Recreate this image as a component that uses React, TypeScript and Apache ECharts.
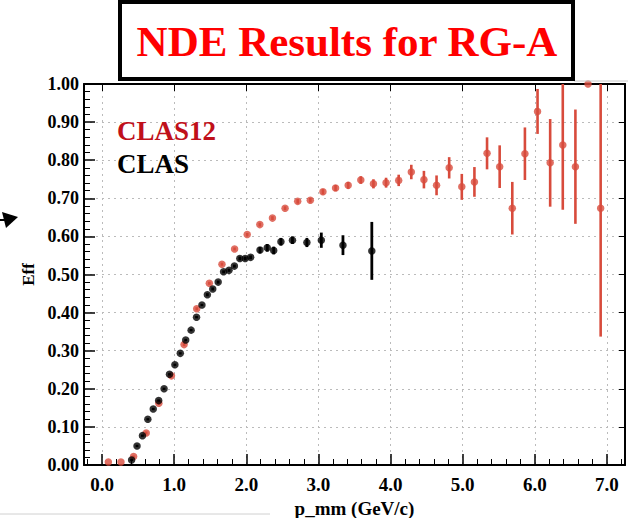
import React, { useEffect, useRef } from 'react';
import * as echarts from 'echarts';

// ---------- data ----------
const xTickValues = [0, 1, 2, 3, 4, 5, 6, 7];
const xMinorTickValues = [
  -0.2, 0.2, 0.4, 0.6, 0.8, 1.2, 1.4, 1.6, 1.8, 2.2, 2.4, 2.6, 2.8, 3.2, 3.4, 3.6, 3.8,
  4.2, 4.4, 4.6, 4.8, 5.2, 5.4, 5.6, 5.8, 6.2, 6.4, 6.6, 6.8, 7.2,
];

const clas12X = [
  0.0875, 0.2625, 0.4375, 0.6125, 0.7875, 0.9625, 1.1375, 1.3125, 1.4875, 1.6625,
  1.8375, 2.0125, 2.1875, 2.3625, 2.5375, 2.7125, 2.8875, 3.0625, 3.2375, 3.4125,
  3.5875, 3.7625, 3.9375, 4.1125, 4.2875, 4.4625, 4.6375, 4.8125, 4.9875, 5.1625,
  5.3375, 5.5125, 5.6875, 5.8625, 6.0375, 6.2125, 6.3875, 6.5625, 6.7375, 6.9125,
];
const clas12Y = [
  0.008, 0.008, 0.022, 0.084, 0.162, 0.234, 0.316, 0.41, 0.477, 0.527,
  0.567, 0.605, 0.631, 0.648, 0.674, 0.692, 0.695, 0.717, 0.727, 0.734,
  0.748, 0.738, 0.741, 0.747, 0.769, 0.749, 0.734, 0.78, 0.73, 0.743,
  0.818, 0.783, 0.674, 0.817, 0.928, 0.793, 0.84, 0.783, 1.0, 0.674,
];
const clas12Err = [
  0, 0, 0.003, 0.004, 0.004, 0.004, 0.004, 0.004, 0.004, 0.004,
  0.004, 0.004, 0.005, 0.005, 0.005, 0.006, 0.006, 0.007, 0.008, 0.009,
  0.01, 0.012, 0.013, 0.015, 0.019, 0.023, 0.026, 0.028, 0.034, 0.039,
  0.042, 0.056, 0.069, 0.069, 0.059, 0.115, 0.17, 0.15, 0, 0.337,
];

const clasX = [
  0.41, 0.485, 0.56, 0.635, 0.71, 0.785, 0.86, 0.935, 1.01, 1.085,
  1.16, 1.235, 1.31, 1.385, 1.46, 1.535, 1.61, 1.685, 1.76, 1.835,
  1.91, 1.985, 2.06, 2.19, 2.29, 2.38, 2.48, 2.64, 2.84, 3.04,
  3.34, 3.74,
];
const clasY = [
  0.013, 0.05, 0.077, 0.12, 0.147, 0.169, 0.2, 0.238, 0.263, 0.293,
  0.328, 0.354, 0.388, 0.42, 0.447, 0.462, 0.48, 0.507, 0.511, 0.522,
  0.542, 0.542, 0.545, 0.564, 0.57, 0.563, 0.586, 0.59, 0.584, 0.59,
  0.577, 0.562,
];
const clasErr = [
  0.003, 0.003, 0.003, 0.003, 0.003, 0.003, 0.003, 0.003, 0.003, 0.003,
  0.003, 0.003, 0.003, 0.003, 0.004, 0.004, 0.004, 0.004, 0.004, 0.004,
  0.005, 0.005, 0.005, 0.008, 0.01, 0.01, 0.01, 0.01, 0.012, 0.02,
  0.026, 0.076,
];

// ---------- styles ----------
const RED = '#d84b3c';
const LEGEND_RED = '#c0101a';
const SERIF = '"Liberation Serif", "DejaVu Serif", "Times New Roman", serif';

export default function App() {
  const ref = useRef<HTMLDivElement>(null);

  useEffect(() => {
    const chart = echarts.init(ref.current!, null, { renderer: 'svg' });

    const errRenderer = (color: string, width: number) => (params: any, api: any) => {
      const x = api.value(0);
      const y = api.value(1);
      const e = api.value(2);
      if (!e) return null;
      const lo = Math.max(0, y - e);
      const hi = Math.min(1, y + e);
      const p1 = api.coord([x, lo]);
      const p2 = api.coord([x, hi]);
      return {
        type: 'line',
        shape: { x1: p1[0], y1: p1[1], x2: p2[0], y2: p2[1] },
        style: { stroke: color, lineWidth: width },
      };
    };

    const axisText = { fontFamily: SERIF, fontWeight: 'bold' as const, color: '#000' };

    chart.setOption({
      animation: false,
      backgroundColor: '#fff',
      grid: { left: 84, right: 5, top: 84, bottom: 53, show: false, outerBoundsMode: 'none', containLabel: false },
      xAxis: [
        {
          type: 'value',
          min: -0.25,
          max: 7.25,
          position: 'bottom',
          axisLine: { show: true, onZero: false, lineStyle: { color: '#000', width: 2 } },
          axisTick: { show: true, inside: true, length: 11, customValues: xTickValues, lineStyle: { color: '#000', width: 1.5 } },
          axisLabel: { ...axisText, customValues: xTickValues, fontSize: 19, margin: 10, formatter: (v: number) => v.toFixed(1) },
          splitLine: { show: true, lineStyle: { color: '#bbb', type: [2, 4], width: 1 } },
          name: 'p_mm (GeV/c)',
          nameLocation: 'middle',
          nameGap: 31,
          nameTextStyle: { ...axisText, fontSize: 19 },
        },
        {
          type: 'value',
          min: -0.25,
          max: 7.25,
          position: 'bottom',
          axisLine: { show: false },
          axisTick: { show: true, inside: true, length: 6, customValues: xMinorTickValues, lineStyle: { color: '#000', width: 1 } },
          axisLabel: { show: false },
          splitLine: { show: false },
        },
        {
          type: 'value',
          min: -0.25,
          max: 7.25,
          position: 'top',
          axisLine: { show: true, onZero: false, lineStyle: { color: '#000', width: 2 } },
          axisTick: { show: true, inside: true, length: 7, customValues: xTickValues, lineStyle: { color: '#000', width: 1 } },
          axisLabel: { show: false },
          splitLine: { show: false },
        },
      ],
      yAxis: [
        {
          type: 'value',
          min: 0,
          max: 1,
          interval: 0.1,
          position: 'left',
          axisLine: { show: true, onZero: false, lineStyle: { color: '#000', width: 2 } },
          axisTick: { show: true, inside: true, length: 11, lineStyle: { color: '#000', width: 1.5 } },
          minorTick: { show: true, splitNumber: 5, length: 6, lineStyle: { color: '#000', width: 1 } },
          axisLabel: { ...axisText, fontSize: 18, margin: 5, formatter: (v: number) => v.toFixed(2) },
          splitLine: { show: true, lineStyle: { color: '#bbb', type: [2, 4], width: 1 } },
          name: 'Eff',
          nameLocation: 'middle',
          nameGap: 46,
          nameRotate: 90,
          nameTextStyle: { ...axisText, fontSize: 17 },
        },
        {
          type: 'value',
          min: 0,
          max: 1,
          interval: 0.1,
          position: 'right',
          axisLine: { show: true, onZero: false, lineStyle: { color: '#000', width: 2 } },
          axisTick: { show: true, inside: true, length: 6, lineStyle: { color: '#000', width: 1 } },
          axisLabel: { show: false },
          splitLine: { show: false },
        },
      ],
      series: [
        {
          type: 'custom',
          name: 'CLAS12 err',
          xAxisIndex: 0,
          yAxisIndex: 0,
          renderItem: errRenderer(RED, 2.6),
          encode: { x: 0, y: 1 },
          data: clas12X.map((x, i) => [x, clas12Y[i], clas12Err[i]]),
          z: 2,
        },
        {
          type: 'scatter',
          name: 'CLAS12',
          xAxisIndex: 0,
          yAxisIndex: 0,
          symbol: 'circle',
          symbolSize: 7.5,
          itemStyle: { color: RED },
          data: clas12X.map((x, i) => [x, clas12Y[i]]),
          z: 3,
        },
        {
          type: 'custom',
          name: 'CLAS err',
          xAxisIndex: 0,
          yAxisIndex: 0,
          renderItem: errRenderer('#000', 2.8),
          encode: { x: 0, y: 1 },
          data: clasX.map((x, i) => [x, clasY[i], clasErr[i]]),
          z: 4,
        },
        {
          type: 'scatter',
          name: 'CLAS',
          xAxisIndex: 0,
          yAxisIndex: 0,
          symbol: 'circle',
          symbolSize: 7.5,
          itemStyle: { color: '#000' },
          data: clasX.map((x, i) => [x, clasY[i]]),
          z: 5,
        },
      ],
      graphic: [
        {
          type: 'polyline',
          z: 90,
          shape: { points: [[574, 0], [574, 81], [628, 81]] },
          style: { stroke: '#c8c8c8', lineWidth: 1, fill: 'none' },
        },
        {
          type: 'rect',
          z: 100,
          shape: { x: 120, y: 2, width: 453, height: 77 },
          style: { fill: '#fff', stroke: '#000', lineWidth: 4 },
        },
        {
          type: 'text',
          z: 101,
          x: 347,
          y: 41,
          style: {
            text: 'NDE Results for RG-A',
            fill: '#ff0000',
            fontFamily: SERIF,
            fontWeight: 'bold',
            fontSize: 43,
            textAlign: 'center',
            textVerticalAlign: 'middle',
          },
        },
        {
          type: 'text',
          z: 50,
          x: 117,
          y: 131,
          style: {
            text: 'CLAS12',
            fill: LEGEND_RED,
            fontFamily: SERIF,
            fontWeight: 'bold',
            fontSize: 27,
            textAlign: 'left',
            textVerticalAlign: 'middle',
          },
        },
        {
          type: 'text',
          z: 50,
          x: 117,
          y: 164,
          style: {
            text: 'CLAS',
            fill: '#000',
            fontFamily: SERIF,
            fontWeight: 'bold',
            fontSize: 27,
            textAlign: 'left',
            textVerticalAlign: 'middle',
          },
        },
        {
          type: 'polygon',
          z: 50,
          shape: { points: [[2, 212], [18, 217], [6, 228]] },
          style: { fill: '#000' },
        },
        {
          type: 'line',
          z: 50,
          shape: { x1: 0, y1: 220, x2: 6, y2: 220 },
          style: { stroke: '#000', lineWidth: 2 },
        },
        {
          type: 'line',
          z: 50,
          shape: { x1: 0, y1: 514, x2: 270, y2: 514 },
          style: { stroke: '#d0d0d0', lineWidth: 1 },
        },
      ],
    });

    return () => chart.dispose();
  }, []);

  return (
    <div
      ref={ref}
      style={{ position: 'fixed', left: 0, top: 0, width: 630, height: 518 }}
    />
  );
}
